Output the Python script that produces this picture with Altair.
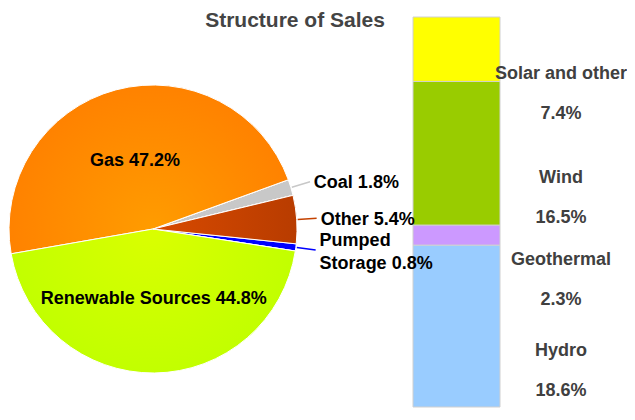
import math
import pandas as pd
import altair as alt

# ---- data ----
pie_categories = ["Coal", "Other", "Pumped Storage", "Renewable Sources", "Gas"]
pie_values = [1.8, 5.4, 0.8, 44.8, 47.2]

bar_categories = ["Hydro", "Geothermal", "Wind", "Solar and other"]
bar_values = [18.6, 2.3, 16.5, 7.4]

title_text = "Structure of Sales"

# ---- styles ----
pie_colors = ["#C8C8C8", "#C44200", "#0000FF", "#C6FF00", "#FF8600"]
bar_colors = ["#99CCFF", "#CC99FF", "#99CC00", "#FFFF00"]
FONT = "Liberation Sans"

pie_df = pd.DataFrame({
    "category": pie_categories,
    "value": pie_values,
    "order": list(range(len(pie_categories))),
})
pie_df["label"] = [
    f"{c} {v}%".replace("Pumped ", "Pumped\n") for c, v in zip(pie_categories, pie_values)
]

bar_df = pd.DataFrame({
    "category": bar_categories,
    "value": bar_values,
    "order": list(range(len(bar_categories))),
})
bar_df["pct"] = [f"{v}%" for v in bar_values]

color_scale = alt.Scale(domain=pie_categories + bar_categories, range=pie_colors + bar_colors)

start = math.radians(70)
total = sum(pie_values)
theta_scale = alt.Scale(domain=[0, total], range=[start, start + 2 * math.pi])

CX, CY, R = 145, 221, 144


def radial_gradient_for(cat, inner, outer):
    """Radial gradient centred on the pie centre, in Vega's normalized bbox units."""
    i = pie_categories.index(cat)
    c0 = sum(pie_values[:i])
    a0 = start + 2 * math.pi * c0 / total
    a1 = start + 2 * math.pi * (c0 + pie_values[i]) / total
    pts = [(0.0, 0.0), (R * math.sin(a0), -R * math.cos(a0)), (R * math.sin(a1), -R * math.cos(a1))]
    k = math.ceil(a0 / (math.pi / 2))
    while k * math.pi / 2 < a1:
        a = k * math.pi / 2
        pts.append((R * math.sin(a), -R * math.cos(a)))
        k += 1
    xs = [p[0] for p in pts]
    ys = [p[1] for p in pts]
    w, h = max(xs) - min(xs), max(ys) - min(ys)
    s = max(w, h)
    ox = min(xs) + w / 2 - s / 2
    oy = min(ys) + h / 2 - s / 2
    u, v, r = -ox / s, -oy / s, R / s
    return alt.Gradient(
        gradient="radial", x1=u, y1=v, r1=0, x2=u, y2=v, r2=r,
        stops=[alt.GradientStop(offset=0, color=inner), alt.GradientStop(offset=1, color=outer)],
    )


pie_base = (
    alt.Chart(pie_df)
    .transform_window(cum1="sum(value)", sort=[alt.SortField("order")], frame=[None, 0])
    .transform_calculate(cum0="datum.cum1 - datum.value", mid="datum.cum1 - datum.value / 2")
)

theta_enc = alt.Theta("cum0:Q", stack=False, scale=theta_scale)
mid_enc = alt.Theta("mid:Q", stack=False, scale=theta_scale)

slices = pie_base.mark_arc(outerRadius=R, stroke="white", strokeWidth=1).encode(
    theta=theta_enc,
    theta2="cum1:Q",
    color=alt.Color("category:N", scale=color_scale, legend=None),
    x=alt.value(CX),
    y=alt.value(CY),
)


def shaded(cat, fill):
    return pie_base.transform_filter(alt.datum.category == cat).mark_arc(
        outerRadius=R, stroke="white", strokeWidth=1, fill=fill
    ).encode(theta=theta_enc, theta2="cum1:Q", x=alt.value(CX), y=alt.value(CY))


gas_shade = shaded("Gas", radial_gradient_for("Gas", "#FF9C00", "#FF8200"))
ren_shade = shaded("Renewable Sources", radial_gradient_for("Renewable Sources", "#DAFF00", "#C2FF00"))
other_shade = shaded(
    "Other",
    alt.Gradient(
        gradient="linear", x1=0, y1=0, x2=1, y2=0,
        stops=[alt.GradientStop(offset=0, color="#D84A00"), alt.GradientStop(offset=1, color="#B83C00")],
    ),
)

leaders = pie_base.transform_filter("datum.value < 10").mark_arc(
    radius=R + 1, radius2=R + 20, filled=False, strokeWidth=1.5
).encode(
    theta=mid_enc,
    theta2="mid:Q",
    color=alt.Color("category:N", scale=color_scale, legend=None),
    x=alt.value(CX),
    y=alt.value(CY),
)

inner_labels = pie_base.transform_filter("datum.value >= 10").mark_text(
    radius=70, font=FONT, fontSize=18, fontWeight="bold", color="black",
    align="center", baseline="middle"
).encode(theta=mid_enc, text="label:N", x=alt.value(CX), y=alt.value(CY))

outer_single = pie_base.transform_filter(
    "datum.value < 10 && indexof(datum.label, '\\n') < 0"
).mark_text(
    radius=168, font=FONT, fontSize=18, fontWeight="bold", color="black",
    align="left", baseline="middle", dy=2
).encode(theta=mid_enc, text="label:N", x=alt.value(CX), y=alt.value(CY))

outer_multi = pie_base.transform_filter(
    "datum.value < 10 && indexof(datum.label, '\\n') >= 0"
).mark_text(
    radius=168, font=FONT, fontSize=18, fontWeight="bold", color="black",
    align="left", baseline="middle", lineBreak="\n", lineHeight=23, dy=-10
).encode(theta=mid_enc, text="label:N", x=alt.value(CX), y=alt.value(CY))

y_scale = alt.Scale(domain=[0, sum(bar_values)], range=[399, 9], nice=False, zero=True)

bar_base = (
    alt.Chart(bar_df)
    .transform_window(cum1="sum(value)", sort=[alt.SortField("order")], frame=[None, 0])
    .transform_calculate(cum0="datum.cum1 - datum.value", mid="datum.cum1 - datum.value / 2")
)

bars = bar_base.mark_bar(stroke="#D0D0D0", strokeWidth=1).encode(
    x=alt.value(405),
    x2=alt.value(492),
    y=alt.Y("cum0:Q", scale=y_scale, axis=None),
    y2="cum1:Q",
    color=alt.Color("category:N", scale=color_scale, legend=None),
)

bar_names = bar_base.mark_text(
    font=FONT, fontSize=18, fontWeight="bold", color="#404040",
    align="center", baseline="middle", dy=25
).encode(
    x=alt.value(553),
    y=alt.Y("mid:Q", scale=y_scale, axis=None),
    text="category:N",
)

bar_pcts = bar_base.mark_text(
    font=FONT, fontSize=18, fontWeight="bold", color="#404040",
    align="center", baseline="middle", dy=65
).encode(
    x=alt.value(553),
    y=alt.Y("mid:Q", scale=y_scale, axis=None),
    text="pct:N",
)

title = alt.Chart(pd.DataFrame({"t": [title_text]})).mark_text(
    font=FONT, fontSize=21, fontWeight="bold", color="#444444",
    align="center", baseline="middle"
).encode(text="t:N", x=alt.value(287), y=alt.value(13))

chart = (
    alt.layer(
        slices, gas_shade, ren_shade, other_shade, leaders, bars,
        inner_labels, outer_single, outer_multi, bar_names, bar_pcts, title,
    )
    .properties(width=619, height=404, padding=0, autosize="none")
    .configure_view(strokeWidth=0)
)

chart.save("out.html", embed_options={"renderer": "svg", "actions": False})
